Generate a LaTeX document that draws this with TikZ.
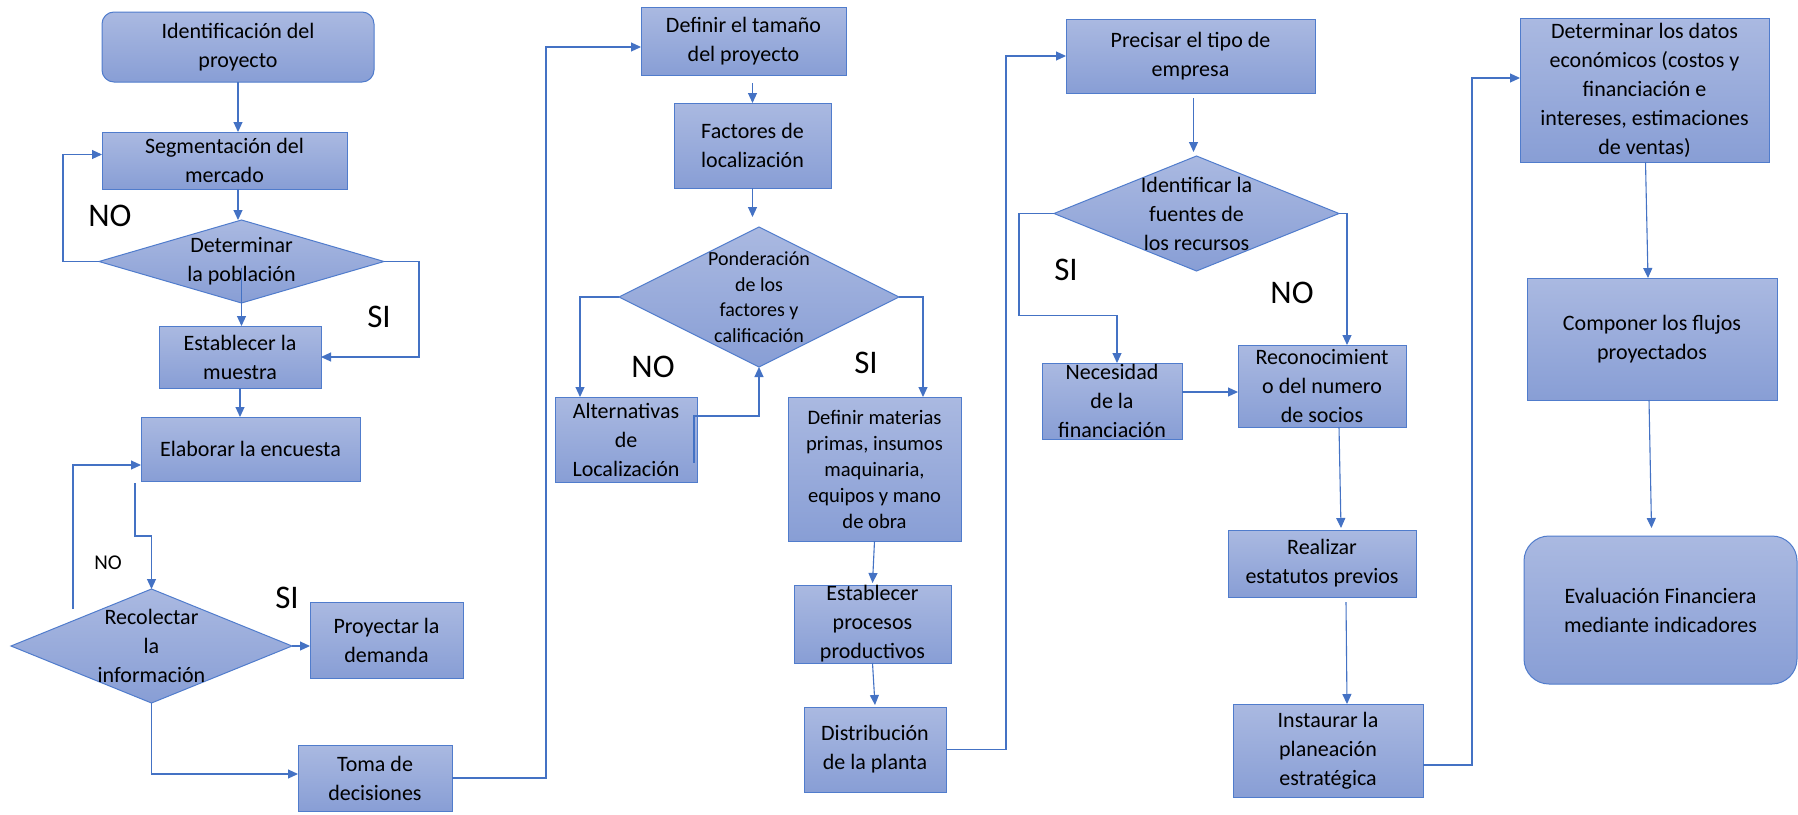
\documentclass[tikz,border=0pt]{standalone}
\usepackage{fontspec}
\setmainfont{Carlito}
\usetikzlibrary{shapes.geometric,arrows.meta,calc}
\definecolor{linec}{RGB}{68,114,196}
\definecolor{bordc}{RGB}{80,124,204}
\definecolor{fillt}{RGB}{170,185,225}
\definecolor{fillb}{RGB}{136,158,213}
\tikzset{
  box/.style={draw=bordc, line width=1pt, top color=fillt, bottom color=fillb,
    align=center, inner sep=0pt, outer sep=0pt, text=black,
    font=\fontsize{22}{29}\selectfont},
  sz/.style 2 args={minimum width=#1pt, minimum height=#2pt},
  dia/.style={diamond, draw=bordc, line width=1pt, top color=fillt, bottom color=fillb,
    inner sep=0pt, outer sep=0pt, aspect=1},
  dtext/.style={align=center, inner sep=0pt, text=black, font=\fontsize{22}{29}\selectfont},
  arr/.style={draw=linec, line width=1.1pt, -{Triangle[length=10pt,width=9pt]}},
  bigl/.style={text=black, inner sep=0pt, font=\fontsize{33}{33}\selectfont},
  smalll/.style={text=black, inner sep=0pt, font=\fontsize{21}{21}\selectfont}
}
\begin{document}
\begin{tikzpicture}[x=1pt,y=-1pt]
\useasboundingbox[fill=white] (0,0) rectangle (1798,814);

% column 1
\node[box, sz={272}{70}, rounded corners=12pt] (ident) at (238,47) {Identificación del\\proyecto};
\node[box, sz={245}{57}] (segm) at (224.5,160.5) {Segmentación del\\mercado};
\node[dia, minimum width=285pt, minimum height=83pt] (dpob) at (241.5,261.5) {};
\node[dtext] (dpobt) at (dpob) {Determinar\\la población};
\node[box, sz={162}{62}] (estab) at (240,357) {Establecer la\\muestra};
\node[box, sz={219}{64}] (elab) at (250.5,449) {Elaborar la encuesta};
\node[dia, minimum width=281pt, minimum height=114pt] (drec) at (151.5,646) {};
\node[dtext] (drect) at (drec) {Recolectar\\la\\información};
\node[box, sz={153}{76}] (proy) at (386.5,640) {Proyectar la\\demanda};
\node[box, sz={154}{66}] (toma) at (375,778) {Toma de\\decisiones};

% column 2
\node[box, sz={205}{68}] (deft) at (743.5,41) {Definir el tamaño\\del proyecto};
\node[box, sz={157}{85}] (fact) at (752.5,145.5) {Factores de\\localización};
\node[dia, minimum width=280pt, minimum height=140pt] (dpond) at (759,297) {};
\node[dtext, font=\fontsize{20}{25.5}\selectfont] (dpondt) at (dpond) {Ponderación\\de los\\factores y\\calificación};
\node[box, sz={142}{85}] (alt) at (626,439.5) {Alternativas\\de\\Localización};
\node[box, sz={173}{144}, font=\fontsize{20.6}{26}\selectfont] (mat) at (874.5,469) {Definir materias\\primas, insumos\\maquinaria,\\equipos y mano\\de obra};
\node[box, sz={157}{78}] (proc) at (872.5,624) {Establecer\\procesos\\productivos};
\node[box, sz={142}{85}] (dist) at (875,749.5) {Distribución\\de la planta};

% column 3
\node[box, sz={249}{74}] (prec) at (1190.5,56) {Precisar el tipo de\\empresa};
\node[dia, minimum width=285pt, minimum height=115pt] (dfue) at (1196.5,213.5) {};
\node[dtext] (dfuet) at (dfue) {Identificar la\\fuentes de\\los recursos};
\node[box, sz={140}{76}] (nec) at (1112,401) {Necesidad\\de la\\financiación};
\node[box, sz={168}{82}] (reco) at (1322,386) {Reconocimient\\o del numero\\de socios};
\node[box, sz={188}{67}] (real) at (1322,563.5) {Realizar\\estatutos previos};
\node[box, sz={190}{93}] (inst) at (1328,750.5) {Instaurar la\\planeación\\estratégica};

% column 4
\node[box, sz={249}{144}] (dato) at (1644.5,90) {Determinar los datos\\económicos (costos y\\financiación e\\intereses, estimaciones\\de ventas)};
\node[box, sz={250}{122}] (comp) at (1652,339) {Componer los flujos\\proyectados};
\node[box, sz={273}{148}, rounded corners=25pt] (eval) at (1660.5,610) {Evaluación Financiera\\mediante indicadores};

% labels
\node[bigl] (l1) at (110,216) {NO};
\node[bigl] (l2) at (379,317) {SI};
\node[smalll] (l3) at (108,563) {NO};
\node[bigl] (l4) at (287,598) {SI};
\node[bigl] (l5) at (653,367) {NO};
\node[bigl] (l6) at (866,363) {SI};
\node[bigl] (l7) at (1066,270) {SI};
\node[bigl] (l8) at (1292,293) {NO};

% connectors column 1
\draw[arr] (ident.south) -- (ident.south |- segm.north);
\draw[arr] (ident.south |- segm.south) -- (ident.south |- dpob.north);
\draw[arr] (dpob.west) -- ++(-36,0) |- ([yshift=6pt]segm.west);
\draw[arr] (dpob.east) -- ++(35,0) |- (estab.east);
\draw[arr] ([yshift=-6pt]dpob.center) -- (dpob.center |- estab.north);
\draw[arr] (estab.south) -- (estab.south |- elab.north);
\draw[arr] ([xshift=-6pt,yshift=-2pt]elab.south west) -- ++(0,53) -| (drec.north);
\coordinate (n2) at (73,609);
\draw[arr] (n2) |- ([yshift=-16pt]elab.west);
\draw[arr] (drec.east) -- (drec.east -| proy.west);
\draw[arr] (drec.south) |- ([yshift=4pt]toma.west);
\draw[arr] (toma.east) -- ++(94,0) |- ([yshift=-6pt]deft.west);

% connectors column 2
\draw[arr] ([yshift=-8pt]deft.south -| fact.north) -- (fact.north);
\draw[arr] (fact.south) -- ([yshift=10pt]dpond.north -| fact.south);
\draw[arr] (dpond.west) -| ([xshift=-46pt]alt.north);
\draw[arr] (dpond.east) -| ([xshift=48.5pt]mat.north);
\draw[arr] ([xshift=-3pt,yshift=-23pt]alt.east) -- ([xshift=-3pt,yshift=23.5pt]alt.east) -| (dpond.south);
\draw[arr] (mat.south) -- ([yshift=2pt]proc.north);
\draw[arr] (proc.south) -- ([yshift=2pt]dist.north);
\draw[arr] (dist.east) -- ++(60,0) |- (prec.west);

% connectors column 3
\draw[arr] ([yshift=-5pt,xshift=3pt]prec.south) -- ([yshift=4pt,xshift=-3pt]dfue.north);
\draw[arr] (dfue.west) -- ++(-35,0) -- ++(0,102) -| ([xshift=5pt]nec.north);
\draw[arr] (dfue.east) -| ([xshift=25pt]reco.north);
\draw[arr] ([yshift=9pt]nec.east) -- ([yshift=9pt]nec.east -| reco.west);
\draw[arr] ([xshift=17pt]reco.south) -- ([xshift=19pt,yshift=2pt]real.north);
\draw[arr] ([xshift=24pt,yshift=-5pt]real.south) -- ([xshift=19pt]inst.north);
\draw[arr] ([yshift=-14.5pt]inst.east) -- ++(49,0) |- ([yshift=12pt]dato.west);

% connectors column 4
\draw[arr] ([xshift=1pt]dato.south) -- ([xshift=-4pt]comp.north);
\draw[arr] ([xshift=-3pt]comp.south) -- ([xshift=-9pt,yshift=8pt]eval.north);
\end{tikzpicture}
\end{document}
